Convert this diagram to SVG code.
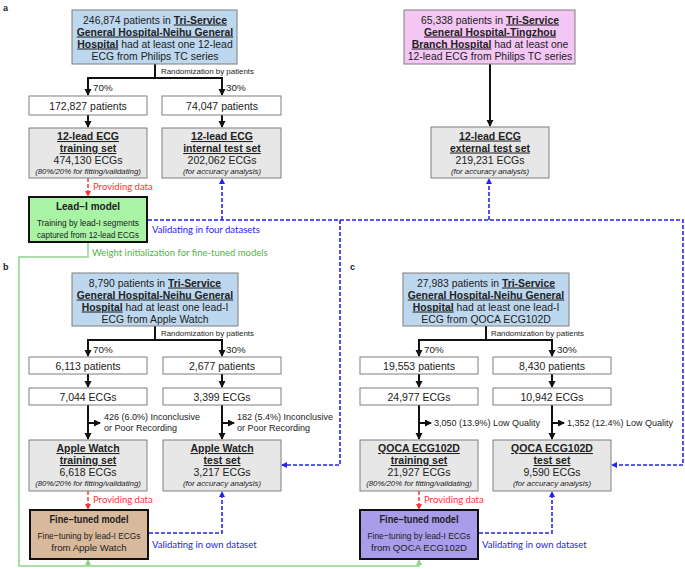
<svg xmlns="http://www.w3.org/2000/svg" width="685" height="569" viewBox="0 0 685 569">
<style>
text{font-family:"Liberation Sans",Arial,sans-serif;fill:#222}
.t{font-size:10.4px;text-anchor:middle}
.b{font-weight:bold}
.u{text-decoration:underline}
.s{font-size:7.9px}
.p{font-size:9.8px}
.n{font-size:10.5px;text-anchor:middle}
.i{font-size:7.8px;font-style:italic;text-anchor:middle}
.q{font-size:9px}
.m{font-size:9.6px;text-anchor:middle}
.mt{font-size:10px;font-weight:bold;text-anchor:middle}
.lbl{font-size:9px;font-weight:bold}
.c{font-family:Lato,"Open Sans",sans-serif;font-size:9.5px}
.red{fill:#FF3333}.blu{fill:#2424F0}.grn{fill:#55B24A}
.hb{fill:#BDD7EE;stroke:#7F7F7F;stroke-width:1}
.pk{fill:#F4C6F4;stroke:#7F7F7F;stroke-width:1}
.wb{fill:#fff;stroke:#7F7F7F;stroke-width:1}
.gb{fill:#E7E7E7;stroke:#7F7F7F;stroke-width:1}
.mdl{stroke:#111;stroke-width:2}
.k{fill:none;stroke:#111;stroke-width:2}
.rd{fill:none;stroke:#FF3333;stroke-width:1.5;stroke-dasharray:4 2}
.bd{fill:none;stroke:#2424F0;stroke-width:1.6;stroke-dasharray:4 2}
.gl{fill:none;stroke:#90D38A;stroke-width:1.5}
</style>
<defs>
<marker id="ak" markerUnits="userSpaceOnUse" markerWidth="8" markerHeight="8" refX="6" refY="3.5" orient="auto"><path d="M0,0 L7,3.5 L0,7 z" fill="#111"/></marker>
<marker id="ar" markerUnits="userSpaceOnUse" markerWidth="8" markerHeight="8" refX="5" refY="3" orient="auto"><path d="M0,0 L6,3 L0,6 z" fill="#FF3333"/></marker>
<marker id="ab" markerUnits="userSpaceOnUse" markerWidth="8" markerHeight="8" refX="5" refY="3" orient="auto"><path d="M0,0 L6,3 L0,6 z" fill="#2424F0"/></marker>
<marker id="ag" markerUnits="userSpaceOnUse" markerWidth="8" markerHeight="8" refX="5" refY="3" orient="auto"><path d="M0,0 L6,3 L0,6 z" fill="#90D38A"/></marker>
</defs>

<text class="lbl" x="3" y="11">a</text>
<text class="lbl" x="3" y="270">b</text>
<text class="lbl" x="350" y="270">c</text>

<g id="connectors">
<!-- section a -->
<path class="k" d="M155,64 V78"/>
<path class="k" d="M155,78 H88 V95" marker-end="url(#ak)"/>
<path class="k" d="M155,78 H222 V95" marker-end="url(#ak)"/>
<path class="k" d="M88,115 V127" marker-end="url(#ak)"/>
<path class="k" d="M222,115 V127" marker-end="url(#ak)"/>
<path class="k" d="M490,64 V126" marker-end="url(#ak)"/>
<path class="rd" d="M88,178 V196" marker-end="url(#ar)"/>
<path class="bd" d="M148,220 H683 V465 H612" marker-end="url(#ab)"/>
<path class="bd" d="M222,220 V179" marker-end="url(#ab)"/>
<path class="bd" d="M489,220 V179" marker-end="url(#ab)"/>
<path class="bd" d="M340,220 V465 H282" marker-end="url(#ab)"/>
<path class="gl" d="M88,242 V257 H19 V566 H419 V560" marker-end="url(#ag)"/>
<path class="gl" d="M88,566 V560" marker-end="url(#ag)"/>
<!-- section b -->
<path class="k" d="M155,326 V340"/>
<path class="k" d="M155,340 H88 V356" marker-end="url(#ak)"/>
<path class="k" d="M155,340 H222 V356" marker-end="url(#ak)"/>
<path class="k" d="M88,374 V387" marker-end="url(#ak)"/>
<path class="k" d="M222,374 V387" marker-end="url(#ak)"/>
<path class="k" d="M88,405 V439" marker-end="url(#ak)"/>
<path class="k" d="M222,405 V439" marker-end="url(#ak)"/>
<path class="k" d="M88,423 H100" marker-end="url(#ak)"/>
<path class="k" d="M222,423 H234" marker-end="url(#ak)"/>
<path class="rd" d="M88,491 V509" marker-end="url(#ar)"/>
<path class="bd" d="M149,533 H222 V492" marker-end="url(#ab)"/>
<!-- section c -->
<path class="k" d="M486,326 V340"/>
<path class="k" d="M486,340 H419 V356" marker-end="url(#ak)"/>
<path class="k" d="M486,340 H552 V356" marker-end="url(#ak)"/>
<path class="k" d="M419,374 V387" marker-end="url(#ak)"/>
<path class="k" d="M552,374 V387" marker-end="url(#ak)"/>
<path class="k" d="M419,405 V439" marker-end="url(#ak)"/>
<path class="k" d="M552,405 V439" marker-end="url(#ak)"/>
<path class="k" d="M419,423 H431" marker-end="url(#ak)"/>
<path class="k" d="M552,423 H564" marker-end="url(#ak)"/>
<path class="rd" d="M419,491 V509" marker-end="url(#ar)"/>
<path class="bd" d="M479,533 H552 V492" marker-end="url(#ab)"/>

<!-- connector labels -->
<text class="s" x="161" y="74">Randomization by patients</text>
<text class="p" x="93" y="91">70%</text>
<text class="p" x="226" y="91">30%</text>
<text class="c red" x="93" y="190">Providing data</text>
<text class="c blu" x="152" y="233">Validating in four datasets</text>
<text class="c grn" x="92" y="256">Weight initialization for fine-tuned models</text>

<text class="s" x="161" y="336">Randomization by patients</text>
<text class="p" x="93" y="353">70%</text>
<text class="p" x="226" y="353">30%</text>
<text class="q" x="104" y="420">426 (6.0%) Inconclusive</text>
<text class="q" x="104" y="431">or Poor Recording</text>
<text class="q" x="237" y="420">182 (5.4%) Inconclusive</text>
<text class="q" x="237" y="431">or Poor Recording</text>
<text class="c red" x="93" y="503">Providing data</text>
<text class="c blu" x="152" y="548">Validating in own dataset</text>

<text class="s" x="491" y="336">Randomization by patients</text>
<text class="p" x="424" y="353">70%</text>
<text class="p" x="557" y="353">30%</text>
<text class="q" x="434" y="426">3,050 (13.9%) Low Quality</text>
<text class="q" x="567" y="426">1,352 (12.4%) Low Quality</text>
<text class="c red" x="424" y="503">Providing data</text>
<text class="c blu" x="482" y="548">Validating in own dataset</text>
</g>

<!-- Section a nodes -->
<g id="a-source">
<rect class="hb" x="72" y="10" width="165" height="54"/>
<text class="t" x="155" y="23.5">246,874 patients in <tspan class="b u">Tri-Service</tspan></text>
<text class="t" x="155" y="35.5"><tspan class="b u">General Hospital-Neihu General</tspan></text>
<text class="t" x="155" y="47.5"><tspan class="b u">Hospital</tspan> had at least one 12-lead</text>
<text class="t" x="155" y="59.5">ECG from Philips TC series</text>
</g>
<g id="a-ext-source">
<rect class="pk" x="404" y="10" width="171" height="54"/>
<text class="t" x="490" y="23.5">65,338 patients in <tspan class="b u">Tri-Service</tspan></text>
<text class="t" x="490" y="35.5"><tspan class="b u">General Hospital-Tingzhou</tspan></text>
<text class="t" x="490" y="47.5"><tspan class="b u">Branch Hospital</tspan> had at least one</text>
<text class="t" x="490" y="59.5">12-lead ECG from Philips TC series</text>
</g>
<g id="a-train-patients">
<rect class="wb" x="29" y="96" width="118" height="19"/>
<text class="n" x="88" y="109.5">172,827 patients</text>
</g>
<g id="a-test-patients">
<rect class="wb" x="162" y="96" width="119" height="19"/>
<text class="n" x="222" y="109.5">74,047 patients</text>
</g>
<g id="a-train-set">
<rect class="gb" x="29" y="128" width="118" height="50"/>
<text class="n b" x="88" y="140"><tspan class="u">12-lead ECG</tspan></text>
<text class="n b" x="88" y="152"><tspan class="u">training set</tspan></text>
<text class="n" x="88" y="163.5">474,130 ECGs</text>
<text class="i" x="88" y="173.5">(80%/20% for fitting/validating)</text>
</g>
<g id="a-int-test">
<rect class="gb" x="162" y="128" width="119" height="50"/>
<text class="n b" x="222" y="140"><tspan class="u">12-lead ECG</tspan></text>
<text class="n b" x="222" y="152"><tspan class="u">internal test set</tspan></text>
<text class="n" x="222" y="163.5">202,062 ECGs</text>
<text class="i" x="222" y="173.5">(for accuracy analysis)</text>
</g>
<g id="a-ext-test">
<rect class="gb" x="431" y="127" width="118" height="51"/>
<text class="n b" x="490" y="139.5"><tspan class="u">12-lead ECG</tspan></text>
<text class="n b" x="490" y="151.5"><tspan class="u">external test set</tspan></text>
<text class="n" x="490" y="163.5">219,231 ECGs</text>
<text class="i" x="490" y="173.5">(for accuracy analysis)</text>
</g>
<g id="a-leadI-model">
<rect class="mdl" x="29" y="197" width="118" height="45" fill="#A9F3A4"/>
<text class="mt" x="88" y="210">Lead−I model</text>
<text class="m" x="88" y="226" textLength="102" lengthAdjust="spacingAndGlyphs">Training by lead-I segments</text>
<text class="m" x="88" y="238" textLength="102" lengthAdjust="spacingAndGlyphs">captured from 12-lead ECGs</text>
</g>

<!-- Section b nodes -->
<g id="b-source">
<rect class="hb" x="72" y="273" width="166" height="53"/>
<text class="t" x="155" y="286.5">8,790 patients in <tspan class="b u">Tri-Service</tspan></text>
<text class="t" x="155" y="298.5"><tspan class="b u">General Hospital-Neihu General</tspan></text>
<text class="t" x="155" y="310.5"><tspan class="b u">Hospital</tspan> had at least one lead-I</text>
<text class="t" x="155" y="322.5">ECG from Apple Watch</text>
</g>
<g id="b-train-patients">
<rect class="wb" x="29" y="357" width="118" height="17"/>
<text class="n" x="88" y="369.5">6,113 patients</text>
</g>
<g id="b-test-patients">
<rect class="wb" x="163" y="357" width="118" height="17"/>
<text class="n" x="222" y="369.5">2,677 patients</text>
</g>
<g id="b-train-ecgs">
<rect class="wb" x="29" y="388" width="118" height="17"/>
<text class="n" x="88" y="400.5">7,044 ECGs</text>
</g>
<g id="b-test-ecgs">
<rect class="wb" x="163" y="388" width="118" height="17"/>
<text class="n" x="222" y="400.5">3,399 ECGs</text>
</g>
<g id="b-train-set">
<rect class="gb" x="29" y="440" width="118" height="51"/>
<text class="n b" x="88" y="452"><tspan class="u">Apple Watch</tspan></text>
<text class="n b" x="88" y="464"><tspan class="u">training set</tspan></text>
<text class="n" x="88" y="475.5">6,618 ECGs</text>
<text class="i" x="88" y="485.5">(80%/20% for fitting/validating)</text>
</g>
<g id="b-test-set">
<rect class="gb" x="163" y="440" width="118" height="51"/>
<text class="n b" x="222" y="452"><tspan class="u">Apple Watch</tspan></text>
<text class="n b" x="222" y="464"><tspan class="u">test set</tspan></text>
<text class="n" x="222" y="475.5">3,217 ECGs</text>
<text class="i" x="222" y="485.5">(for accuracy analysis)</text>
</g>
<g id="b-finetuned-model">
<rect class="mdl" x="30" y="510" width="118" height="49" fill="#D9B99B"/>
<text class="mt" x="89" y="523" textLength="79" lengthAdjust="spacingAndGlyphs">Fine−tuned model</text>
<text class="m" x="89" y="539" textLength="103" lengthAdjust="spacingAndGlyphs">Fine−tuning by lead-I ECGs</text>
<text class="m" x="89" y="551">from Apple Watch</text>
</g>

<!-- Section c nodes -->
<g id="c-source">
<rect class="hb" x="403" y="273" width="166" height="53"/>
<text class="t" x="486" y="286.5">27,983 patients in <tspan class="b u">Tri-Service</tspan></text>
<text class="t" x="486" y="298.5"><tspan class="b u">General Hospital-Neihu General</tspan></text>
<text class="t" x="486" y="310.5"><tspan class="b u">Hospital</tspan> had at least one lead-I</text>
<text class="t" x="486" y="322.5">ECG from QOCA ECG102D</text>
</g>
<g id="c-train-patients">
<rect class="wb" x="360" y="357" width="118" height="17"/>
<text class="n" x="419" y="369.5">19,553 patients</text>
</g>
<g id="c-test-patients">
<rect class="wb" x="493" y="357" width="118" height="17"/>
<text class="n" x="552" y="369.5">8,430 patients</text>
</g>
<g id="c-train-ecgs">
<rect class="wb" x="360" y="388" width="118" height="17"/>
<text class="n" x="419" y="400.5">24,977 ECGs</text>
</g>
<g id="c-test-ecgs">
<rect class="wb" x="493" y="388" width="118" height="17"/>
<text class="n" x="552" y="400.5">10,942 ECGs</text>
</g>
<g id="c-train-set">
<rect class="gb" x="360" y="440" width="118" height="51"/>
<text class="n b" x="419" y="452"><tspan class="u">QOCA ECG102D</tspan></text>
<text class="n b" x="419" y="464"><tspan class="u">training set</tspan></text>
<text class="n" x="419" y="475.5">21,927 ECGs</text>
<text class="i" x="419" y="485.5">(80%/20% for fitting/validating)</text>
</g>
<g id="c-test-set">
<rect class="gb" x="493" y="440" width="118" height="51"/>
<text class="n b" x="552" y="452"><tspan class="u">QOCA ECG102D</tspan></text>
<text class="n b" x="552" y="464"><tspan class="u">test set</tspan></text>
<text class="n" x="552" y="475.5">9,590 ECGs</text>
<text class="i" x="552" y="485.5">(for accuracy analysis)</text>
</g>
<g id="c-finetuned-model">
<rect class="mdl" x="360" y="510" width="118" height="49" fill="#A99CEA"/>
<text class="mt" x="419" y="523" textLength="79" lengthAdjust="spacingAndGlyphs">Fine−tuned model</text>
<text class="m" x="419" y="539" textLength="103" lengthAdjust="spacingAndGlyphs">Fine−tuning by lead-I ECGs</text>
<text class="m" x="419" y="551">from QOCA ECG102D</text>
</g>
</svg>
